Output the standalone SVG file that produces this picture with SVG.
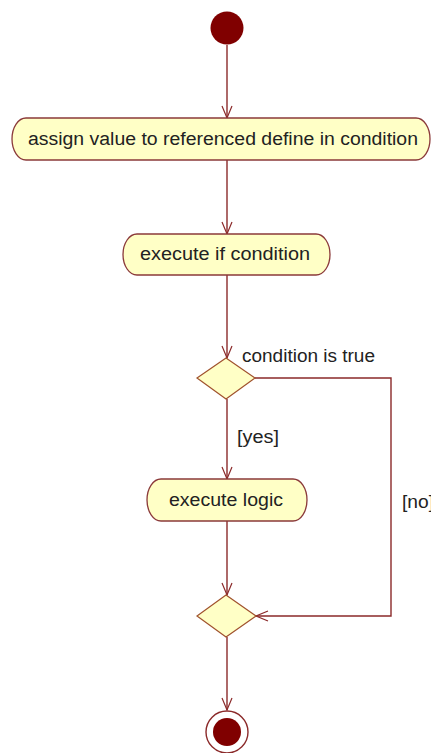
<svg xmlns="http://www.w3.org/2000/svg" width="431" height="753" viewBox="0 0 431 753">
  <style>
    .act { fill: #ffffc6; stroke: #8b3a3a; stroke-width: 1.3; }
    .dec { fill: #ffffc6; stroke: #a0522d; stroke-width: 1.2; }
    .lbl { font-family: "Liberation Sans", Arial, sans-serif; font-size: 18px; fill: #222; }
    .edge { fill: none; stroke: #8b2a2a; stroke-width: 1.4; }
    .solid { fill: #800000; }
  </style>
  <defs>
    <marker id="open" viewBox="-14 -7 16 14" markerWidth="16" markerHeight="14" refX="0" refY="0" orient="auto" markerUnits="userSpaceOnUse">
      <path d="M-12,-5 L0,0 L-12,5" fill="none" stroke="#8b2a2a" stroke-width="1.2"/>
    </marker>
  </defs>

  <!-- connectors -->
  <g id="edges">
    <path class="edge" d="M227,45 L227,118" marker-end="url(#open)"/>
    <path class="edge" d="M227,160 L227,234" marker-end="url(#open)"/>
    <path class="edge" d="M227,275 L227,358" marker-end="url(#open)"/>
    <path class="edge" d="M227,399 L227,479" marker-end="url(#open)"/>
    <path class="edge" d="M227,521 L227,595" marker-end="url(#open)"/>
    <path class="edge" d="M255,378 L391,378 L391,616 L256,616" marker-end="url(#open)"/>
    <path class="edge" d="M227,637 L227,710" marker-end="url(#open)"/>
    <text class="lbl" x="242" y="362" textLength="133" lengthAdjust="spacingAndGlyphs">condition is true</text>
    <text class="lbl" x="237" y="443" textLength="42" lengthAdjust="spacingAndGlyphs">[yes]</text>
    <text class="lbl" x="402" y="508" textLength="32" lengthAdjust="spacingAndGlyphs">[no]</text>
  </g>

  <g id="start">
    <circle class="solid" cx="227" cy="28" r="16.5"/>
  </g>

  <g id="assign">
    <rect class="act" x="12" y="118" width="418" height="42" rx="14" ry="21"/>
    <text class="lbl" x="28" y="145" textLength="390" lengthAdjust="spacingAndGlyphs">assign value to referenced define in condition</text>
  </g>

  <g id="execIf">
    <rect class="act" x="123" y="234" width="207" height="41" rx="14" ry="20.5"/>
    <text class="lbl" x="140" y="260" textLength="170" lengthAdjust="spacingAndGlyphs">execute if condition</text>
  </g>

  <g id="decision">
    <polygon class="dec" points="226,358 255,378 226,399 197,378"/>
  </g>

  <g id="execLogic">
    <rect class="act" x="147" y="479" width="160" height="42" rx="14" ry="21"/>
    <text class="lbl" x="169" y="506" textLength="114" lengthAdjust="spacingAndGlyphs">execute logic</text>
  </g>

  <g id="merge">
    <polygon class="dec" points="226,595 256,616 226,637 197,616"/>
  </g>

  <g id="end">
    <circle cx="227" cy="732" r="21" fill="#ffffff" stroke="#8b2a2a" stroke-width="1.4"/>
    <circle class="solid" cx="227" cy="732" r="14"/>
  </g>
</svg>
